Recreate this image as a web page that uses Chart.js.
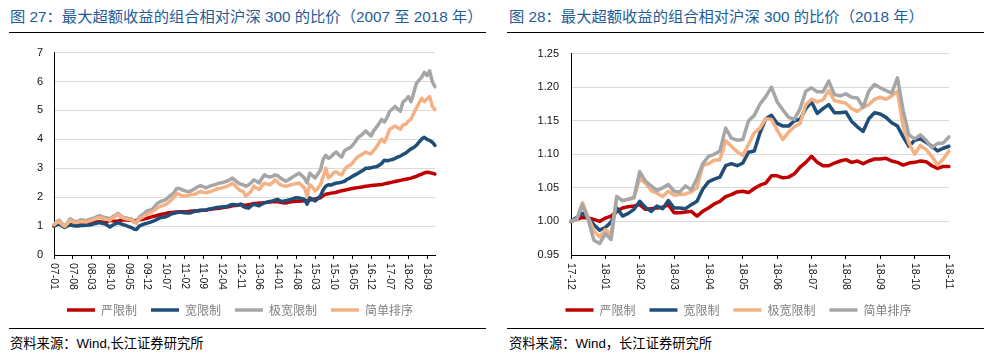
<!DOCTYPE html>
<html>
<head>
<meta charset="utf-8">
<script src="https://cdn.jsdelivr.net/npm/chart.js@4/dist/chart.umd.min.js"></script>
<style>
body { margin: 0; width: 992px; height: 362px; background: #fff; position: relative; overflow: hidden;
       font-family: "Liberation Sans", "Noto Sans CJK SC", sans-serif; }
.title { position: absolute; top: 8px; font-size: 15.3px; line-height: 17px; color: #1f5c99; white-space: nowrap; }
.rule { position: absolute; height: 0; border-top: 1px solid #000; }
.source { position: absolute; top: 336px; font-size: 13.3px; line-height: 16px; color: #000; white-space: nowrap; }
.box { position: absolute; top: 35px; width: 496px; height: 291px; }
</style>
</head>
<body>
<div class="title" style="left:10px">图 27：最大超额收益的组合相对沪深 300 的比价（2007 至 2018 年）</div>
<div class="title" style="left:509px">图 28：最大超额收益的组合相对沪深 300 的比价（2018 年）</div>
<div class="rule" style="left:9px;width:477px;top:32px"></div>
<div class="rule" style="left:507px;width:477px;top:32px"></div>
<div class="box" style="left:0"><canvas id="leftChart"></canvas></div>
<div class="box" style="left:496px"><canvas id="rightChart"></canvas></div>
<div class="rule" style="left:9px;width:477px;top:328px"></div>
<div class="rule" style="left:507px;width:477px;top:328px"></div>
<div class="source" style="left:10px">资料来源：Wind,长江证券研究所</div>
<div class="source" style="left:509px">资料来源：Wind，长江证券研究所</div>

<script>
const seriesNames = ['严限制', '宽限制', '极宽限制', '简单排序'];
const leftColors = ['#C00000', '#1F4E79', '#A6A6A6', '#F4B183'];
const rightColors = ['#C00000', '#1F4E79', '#F4B183', '#A6A6A6'];

// figure 27: monthly, 2007-01 .. 2018-12
const leftTickLabels = ['07-01', '07-08', '08-03', '08-10', '09-05', '09-12', '10-07', '11-02', '11-09', '12-04',
    '12-11', '13-06', '14-01', '14-08', '15-03', '15-10', '16-05', '16-12', '17-07', '18-02', '18-09'];
const leftTickStep = 7;

const leftStrict = [1.00, 1.05, 1.10, 1.05, 1.00, 1.04, 1.05, 1.05, 1.05, 1.06,
    1.07, 1.08, 1.08, 1.09, 1.10, 1.12, 1.14, 1.15, 1.14, 1.12,
    1.15, 1.20, 1.18, 1.17, 1.18, 1.20, 1.22, 1.21, 1.20, 1.20,
    1.18, 1.20, 1.22, 1.23, 1.25, 1.27, 1.30, 1.33, 1.35, 1.38,
    1.40, 1.42, 1.44, 1.46, 1.47, 1.48, 1.49, 1.50, 1.50, 1.50,
    1.50, 1.51, 1.52, 1.52, 1.53, 1.54, 1.55, 1.55, 1.57, 1.58,
    1.60, 1.61, 1.62, 1.63, 1.65, 1.66, 1.68, 1.70, 1.71, 1.72,
    1.75, 1.73, 1.72, 1.74, 1.76, 1.78, 1.78, 1.80, 1.80, 1.81,
    1.82, 1.83, 1.84, 1.85, 1.84, 1.82, 1.81, 1.80, 1.82, 1.84,
    1.85, 1.86, 1.86, 1.87, 1.88, 1.88, 1.90, 1.92, 1.94, 1.96,
    1.98, 2.05, 2.10, 2.12, 2.14, 2.15, 2.17, 2.20, 2.22, 2.24,
    2.26, 2.28, 2.30, 2.32, 2.33, 2.34, 2.36, 2.38, 2.39, 2.40,
    2.41, 2.42, 2.43, 2.44, 2.46, 2.48, 2.50, 2.52, 2.54, 2.56,
    2.58, 2.60, 2.62, 2.64, 2.66, 2.69, 2.72, 2.76, 2.80, 2.84,
    2.86, 2.85, 2.83, 2.80];
const leftWide = [1.00, 1.05, 1.08, 1.00, 0.95, 1.00, 1.05, 1.02, 1.00, 1.00,
    1.02, 1.02, 1.03, 1.04, 1.05, 1.08, 1.10, 1.12, 1.10, 1.08,
    1.03, 0.97, 1.03, 1.08, 1.12, 1.08, 1.05, 1.02, 0.98, 0.95,
    0.90, 0.88, 1.00, 1.04, 1.08, 1.10, 1.13, 1.16, 1.20, 1.25,
    1.30, 1.30, 1.32, 1.37, 1.42, 1.44, 1.47, 1.48, 1.48, 1.46,
    1.45, 1.45, 1.48, 1.52, 1.53, 1.55, 1.55, 1.56, 1.58, 1.60,
    1.62, 1.64, 1.65, 1.66, 1.67, 1.68, 1.72, 1.75, 1.74, 1.72,
    1.76, 1.68, 1.64, 1.62, 1.70, 1.76, 1.73, 1.70, 1.76, 1.81,
    1.83, 1.85, 1.87, 1.90, 1.92, 1.87, 1.86, 1.88, 1.90, 1.92,
    1.96, 1.98, 1.97, 1.95, 1.92, 1.76, 1.98, 1.92, 1.87, 1.95,
    2.04, 2.25, 2.38, 2.43, 2.42, 2.46, 2.49, 2.50, 2.52, 2.55,
    2.62, 2.66, 2.72, 2.77, 2.82, 2.88, 2.93, 3.00, 3.00, 3.02,
    3.04, 3.05, 3.10, 3.17, 3.28, 3.26, 3.28, 3.30, 3.34, 3.39,
    3.42, 3.48, 3.52, 3.60, 3.67, 3.72, 3.79, 3.90, 4.01, 4.07,
    4.00, 3.96, 3.90, 3.79];
const leftVeryWide = [1.05, 1.15, 1.20, 1.08, 0.98, 1.10, 1.25, 1.20, 1.15, 1.17,
    1.22, 1.20, 1.18, 1.22, 1.25, 1.28, 1.32, 1.36, 1.33, 1.30,
    1.28, 1.25, 1.32, 1.38, 1.44, 1.36, 1.30, 1.28, 1.26, 1.25,
    1.18, 1.15, 1.30, 1.38, 1.45, 1.53, 1.55, 1.59, 1.70, 1.80,
    1.85, 1.88, 1.92, 2.00, 2.08, 2.15, 2.30, 2.30, 2.26, 2.22,
    2.20, 2.20, 2.25, 2.30, 2.36, 2.40, 2.36, 2.32, 2.36, 2.40,
    2.42, 2.45, 2.49, 2.50, 2.53, 2.56, 2.60, 2.66, 2.58, 2.50,
    2.45, 2.43, 2.38, 2.42, 2.50, 2.60, 2.55, 2.49, 2.65, 2.77,
    2.72, 2.70, 2.72, 2.77, 2.74, 2.66, 2.60, 2.55, 2.60, 2.66,
    2.72, 2.78, 2.83, 2.75, 2.66, 2.49, 2.83, 2.75, 2.66, 2.80,
    2.94, 3.30, 3.45, 3.34, 3.40, 3.50, 3.56, 3.45, 3.39, 3.60,
    3.67, 3.70, 3.79, 3.90, 4.05, 4.12, 4.20, 4.29, 4.20, 4.12,
    4.30, 4.41, 4.55, 4.69, 4.60, 4.75, 4.97, 5.05, 5.14, 5.05,
    4.97, 5.30, 5.36, 5.48, 5.30, 5.60, 5.93, 6.05, 6.15, 6.32,
    6.20, 6.37, 5.99, 5.82];
const leftSimple = [1.05, 1.12, 1.15, 1.05, 1.00, 1.08, 1.20, 1.15, 1.12, 1.13,
    1.16, 1.15, 1.14, 1.17, 1.20, 1.24, 1.27, 1.30, 1.28, 1.25,
    1.23, 1.20, 1.28, 1.34, 1.40, 1.33, 1.28, 1.25, 1.23, 1.22,
    1.12, 1.10, 1.25, 1.30, 1.36, 1.40, 1.45, 1.50, 1.56, 1.65,
    1.68, 1.72, 1.75, 1.82, 1.90, 2.00, 2.12, 2.10, 2.05, 2.04,
    2.06, 2.08, 2.09, 2.10, 2.16, 2.20, 2.17, 2.15, 2.18, 2.20,
    2.24, 2.28, 2.30, 2.32, 2.35, 2.38, 2.42, 2.48, 2.40, 2.30,
    2.22, 2.20, 2.04, 2.12, 2.20, 2.38, 2.32, 2.26, 2.38, 2.49,
    2.45, 2.43, 2.50, 2.60, 2.52, 2.43, 2.40, 2.38, 2.40, 2.43,
    2.45, 2.47, 2.49, 2.40, 2.32, 2.04, 2.43, 2.35, 2.21, 2.30,
    2.43, 2.70, 3.00, 2.66, 2.75, 2.85, 2.88, 2.80, 2.77, 2.95,
    3.05, 3.10, 3.17, 3.30, 3.40, 3.45, 3.50, 3.56, 3.52, 3.50,
    3.62, 3.73, 3.88, 4.01, 3.90, 4.10, 4.35, 4.40, 4.46, 4.40,
    4.35, 4.50, 4.52, 4.63, 4.69, 4.90, 5.08, 5.25, 5.42, 5.30,
    5.40, 5.48, 5.14, 5.03];

// figure 28: six readings per month, 2017-12 .. 2018-11
const rightTickLabels = ['17-12', '18-01', '18-02', '18-03', '18-04', '18-05', '18-06', '18-07', '18-08', '18-09', '18-10', '18-11'];
const rightTickStep = 6;

const rightStrict = [1.000, 1.003, 1.006, 1.005, 1.003, 1.000, 1.005, 1.008, 1.015, 1.020,
    1.022, 1.023, 1.025, 1.018, 1.019, 1.020, 1.021, 1.025, 1.013, 1.013,
    1.014, 1.015, 1.008, 1.015, 1.020, 1.026, 1.030, 1.037, 1.040, 1.044,
    1.045, 1.043, 1.049, 1.054, 1.057, 1.068, 1.068, 1.065, 1.066, 1.071,
    1.081, 1.088, 1.097, 1.088, 1.083, 1.083, 1.087, 1.090, 1.092, 1.088,
    1.090, 1.086, 1.090, 1.093, 1.093, 1.094, 1.090, 1.088, 1.084, 1.087,
    1.088, 1.090, 1.089, 1.083, 1.079, 1.082, 1.082];
const rightWide = [1.000, 1.006, 1.012, 1.006, 0.995, 0.987, 0.991, 0.999, 1.020, 1.008,
    1.012, 1.018, 1.030, 1.021, 1.015, 1.023, 1.019, 1.031, 1.020, 1.020,
    1.019, 1.025, 1.030, 1.048, 1.059, 1.063, 1.066, 1.083, 1.086, 1.083,
    1.087, 1.103, 1.105, 1.132, 1.153, 1.158, 1.146, 1.142, 1.142, 1.150,
    1.152, 1.168, 1.178, 1.161, 1.168, 1.174, 1.162, 1.162, 1.163, 1.149,
    1.141, 1.134, 1.153, 1.162, 1.160, 1.155, 1.147, 1.142, 1.126, 1.112,
    1.121, 1.123, 1.118, 1.112, 1.105, 1.109, 1.112];
const rightVeryWide = [1.000, 1.003, 1.028, 1.006, 0.986, 0.977, 0.988, 0.981, 1.037, 1.031,
    1.033, 1.035, 1.064, 1.057, 1.046, 1.042, 1.037, 1.045, 1.039, 1.040,
    1.041, 1.044, 1.050, 1.083, 1.086, 1.091, 1.092, 1.120, 1.112, 1.104,
    1.098, 1.115, 1.132, 1.139, 1.153, 1.152, 1.136, 1.122, 1.133, 1.141,
    1.146, 1.174, 1.182, 1.178, 1.181, 1.195, 1.180, 1.178, 1.176, 1.168,
    1.164, 1.170, 1.174, 1.182, 1.185, 1.182, 1.187, 1.194, 1.141, 1.117,
    1.100, 1.113, 1.107, 1.097, 1.084, 1.093, 1.105];
const rightSimple = [1.000, 1.003, 1.025, 1.003, 0.972, 0.967, 0.982, 0.973, 1.037, 1.031,
    1.033, 1.036, 1.074, 1.060, 1.053, 1.046, 1.050, 1.055, 1.045, 1.044,
    1.053, 1.047, 1.064, 1.086, 1.097, 1.100, 1.105, 1.139, 1.124, 1.121,
    1.122, 1.150, 1.158, 1.175, 1.186, 1.200, 1.178, 1.166, 1.155, 1.152,
    1.168, 1.194, 1.199, 1.193, 1.193, 1.209, 1.189, 1.187, 1.190, 1.185,
    1.184, 1.170, 1.194, 1.204, 1.199, 1.195, 1.191, 1.214, 1.165, 1.129,
    1.123, 1.129, 1.121, 1.110, 1.116, 1.117, 1.126];

const leftCategories = [];
for (let y = 2007; y <= 2018; y++) {
    for (let m = 1; m <= 12; m++) {
        leftCategories.push(String(y).slice(2) + '-' + String(m).padStart(2, '0'));
    }
}
const rightCategories = rightStrict.map((v, i) => rightTickLabels[Math.floor(i / rightTickStep)]);

Chart.defaults.font.family = '"Liberation Sans", "Noto Sans CJK SC", sans-serif';
Chart.defaults.animation = false;

// x labels read top-to-bottom, so they are drawn here instead of by the scale
const verticalTicks = {
    id: 'verticalTicks',
    afterDraw(chart, args, opts) {
        const scale = chart.scales.x;
        const ctx = chart.ctx;
        ctx.save();
        ctx.font = '10.5px "Liberation Sans", sans-serif';
        ctx.fillStyle = '#111';
        ctx.textAlign = 'left';
        ctx.textBaseline = 'middle';
        opts.labels.forEach((text, k) => {
            const px = scale.getPixelForValue(k * opts.step);
            ctx.save();
            ctx.translate(px, scale.top + 8);
            ctx.rotate(Math.PI / 2);
            ctx.fillText(text, 0, 0);
            ctx.restore();
        });
        ctx.restore();
    }
};

function buildChart(id, categories, values, colors, yScale, tickLabels, step, yWidth, rightGap, rightPad) {
    const datasets = values.map((data, i) => ({
        label: seriesNames[i],
        data: data,
        borderColor: colors[i],
        backgroundColor: colors[i],
        borderWidth: 3.5,
        borderCapStyle: 'round',
        borderJoinStyle: 'round',
        pointRadius: 0,
        tension: 0,
        order: values.length - i
    }));

    return new Chart(document.getElementById(id), {
        type: 'line',
        data: { labels: categories, datasets: datasets },
        options: {
            responsive: true,
            maintainAspectRatio: false,
            layout: { padding: { top: 13.3, right: rightPad, bottom: 0, left: 0 } },
            plugins: {
                tooltip: { enabled: false },
                verticalTicks: { labels: tickLabels, step: step },
                legend: {
                    position: 'bottom',
                    labels: {
                        usePointStyle: true,
                        pointStyle: 'line',
                        pointStyleWidth: 28,
                        padding: 14,
                        color: '#7f7f7f',
                        font: { size: 12, family: '"Noto Sans CJK SC", sans-serif' },
                        sort: (a, b) => a.datasetIndex - b.datasetIndex
                    }
                }
            },
            scales: {
                x: {
                    ticks: { display: false, autoSkip: false },
                    grid: {
                        drawOnChartArea: false,
                        drawTicks: true,
                        tickLength: 4,
                        tickColor: c => c.index % step === 0 ? '#000' : 'rgba(0,0,0,0)'
                    },
                    border: { color: '#000', width: 1 },
                    afterFit: s => { s.height = 35; }
                },
                y: Object.assign({
                    grid: { color: '#d9d9d9', drawTicks: false },
                    border: { color: '#000', width: 1 },
                    afterFit: s => { s.width = yWidth; }
                }, yScale),
                // empty right-hand scale: keeps the plot narrow while the legend stays centred on the panel
                gap: {
                    position: 'right',
                    ticks: { display: false },
                    grid: { display: false },
                    border: { display: false },
                    afterFit: s => { s.width = rightGap; }
                }
            }
        },
        plugins: [verticalTicks]
    });
}

buildChart('leftChart', leftCategories, [leftStrict, leftWide, leftVeryWide, leftSimple], leftColors, {
    min: 0, max: 7,
    ticks: { stepSize: 1, padding: 11, color: '#111', font: { size: 11 } }
}, leftTickLabels, leftTickStep, 54, 45, 16);

buildChart('rightChart', rightCategories, [rightStrict, rightWide, rightVeryWide, rightSimple], rightColors, {
    min: 0.95, max: 1.25,
    ticks: { stepSize: 0.05, padding: 12, color: '#111', font: { size: 11 }, callback: v => Number(v).toFixed(2) }
}, rightTickLabels, rightTickStep, 75, 32, 11);
</script>
</body>
</html>
